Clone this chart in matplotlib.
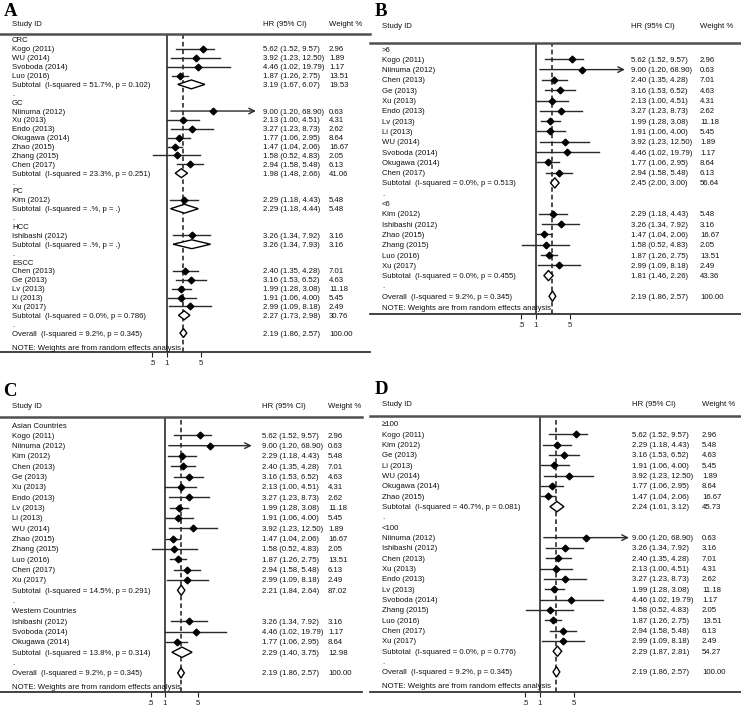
import numpy as np
import matplotlib
matplotlib.use('Agg')
import matplotlib.pyplot as plt
import matplotlib.transforms as mtransforms
from matplotlib.patches import Polygon

plt.rcParams['font.family'] = ['Liberation Sans', 'DejaVu Sans']

# ---- study level data (HR, 95% CI, weight %) ----
study = ['Kogo (2011)', 'WU (2014)', 'Svoboda (2014)', 'Luo (2016)', 'Niinuma (2012)', 'Xu (2013)',
         'Endo (2013)', 'Okugawa (2014)', 'Zhao (2015)', 'Zhang (2015)', 'Chen (2017)', 'Kim (2012)',
         'Ishibashi (2012)', 'Chen (2013)', 'Ge (2013)', 'Lv (2013)', 'Li (2013)', 'Xu (2017)']
hr = [5.62, 3.92, 4.46, 1.87, 9.00, 2.13, 3.27, 1.77, 1.47, 1.58, 2.94, 2.29, 3.26, 2.40, 3.16, 1.99, 1.91, 2.99]
lo = [1.52, 1.23, 1.02, 1.26, 1.20, 1.00, 1.23, 1.06, 1.04, 0.52, 1.58, 1.18, 1.34, 1.35, 1.53, 1.28, 1.06, 1.09]
hi = [9.57, 12.50, 19.79, 2.75, 68.90, 4.51, 8.73, 2.95, 2.06, 4.83, 5.48, 4.43, 7.92, 4.28, 6.52, 3.08, 4.00, 8.18]
wt = [2.96, 1.89, 1.17, 13.51, 0.63, 4.31, 2.62, 8.64, 16.67, 2.05, 6.13, 5.48, 3.16, 7.01, 4.63, 11.18, 5.45, 2.49]

# overall (same in all 4 panels)
ov_hr, ov_lo, ov_hi, ov_wt = 2.19, 1.86, 2.57, 100.00
ov_i2, ov_p = '9.2', '0.345'

# ---- A: tumor type ----
a_groups = ['CRC', 'GC', 'PC', 'HCC', 'ESCC']
a_members = [['Kogo (2011)', 'WU (2014)', 'Svoboda (2014)', 'Luo (2016)'],
             ['Niinuma (2012)', 'Xu (2013)', 'Endo (2013)', 'Okugawa (2014)', 'Zhao (2015)', 'Zhang (2015)', 'Chen (2017)'],
             ['Kim (2012)'],
             ['Ishibashi (2012)'],
             ['Chen (2013)', 'Ge (2013)', 'Lv (2013)', 'Li (2013)', 'Xu (2017)']]
a_i2 = ['51.7', '23.3', '.', '.', '0.0']
a_p = ['0.102', '0.251', '.', '.', '0.786']
a_hr = [3.19, 1.98, 2.29, 3.26, 2.27]
a_lo = [1.67, 1.48, 1.18, 1.34, 1.73]
a_hi = [6.07, 2.66, 4.44, 7.93, 2.98]
a_wt = [19.53, 41.06, 5.48, 3.16, 30.76]

# ---- B: follow-up ----
b_groups = ['>6', '<6']
b_members = [['Kogo (2011)', 'Niinuma (2012)', 'Chen (2013)', 'Ge (2013)', 'Xu (2013)', 'Endo (2013)', 'Lv (2013)',
              'Li (2013)', 'WU (2014)', 'Svoboda (2014)', 'Okugawa (2014)', 'Chen (2017)'],
             ['Kim (2012)', 'Ishibashi (2012)', 'Zhao (2015)', 'Zhang (2015)', 'Luo (2016)', 'Xu (2017)']]
b_i2 = ['0.0', '0.0']
b_p = ['0.513', '0.455']
b_hr = [2.45, 1.81]
b_lo = [2.00, 1.46]
b_hi = [3.00, 2.26]
b_wt = [56.64, 43.36]

# ---- C: region ----
c_groups = ['Asian Countries', 'Western Countries']
c_members = [['Kogo (2011)', 'Niinuma (2012)', 'Kim (2012)', 'Chen (2013)', 'Ge (2013)', 'Xu (2013)', 'Endo (2013)',
              'Lv (2013)', 'Li (2013)', 'WU (2014)', 'Zhao (2015)', 'Zhang (2015)', 'Luo (2016)', 'Chen (2017)', 'Xu (2017)'],
             ['Ishibashi (2012)', 'Svoboda (2014)', 'Okugawa (2014)']]
c_i2 = ['14.5', '13.8']
c_p = ['0.291', '0.314']
c_hr = [2.21, 2.29]
c_lo = [1.84, 1.40]
c_hi = [2.64, 3.75]
c_wt = [87.02, 12.98]

# ---- D: sample size ----
d_groups = ['\u2265100', '<100']
d_members = [['Kogo (2011)', 'Kim (2012)', 'Ge (2013)', 'Li (2013)', 'WU (2014)', 'Okugawa (2014)', 'Zhao (2015)'],
             ['Niinuma (2012)', 'Ishibashi (2012)', 'Chen (2013)', 'Xu (2013)', 'Endo (2013)', 'Lv (2013)',
              'Svoboda (2014)', 'Zhang (2015)', 'Luo (2016)', 'Chen (2017)', 'Xu (2017)']]
d_i2 = ['46.7', '0.0']
d_p = ['0.081', '0.776']
d_hr = [2.24, 2.29]
d_lo = [1.61, 1.87]
d_hi = [3.12, 2.81]
d_wt = [45.73, 54.27]

tick_vals = [0.5, 1, 5]
tick_labs = ['.5', '1', '5']

W, H = 741, 708
fig = plt.figure(figsize=(W / 100, H / 100), dpi=100)
fig.patch.set_facecolor('white')

FS = 5.6
TXT = '#111111'
LINE = '#2a2a2a'


def fmt_ci(h, l, u):
    return '%.2f (%.2f, %.2f)' % (h, l, u)


def diamond(ax, h, l, u, y, half=0.5):
    pts = [(l, y), (h, y - half), (u, y), (h, y + half)]
    ax.add_patch(Polygon(pts, closed=True, facecolor='white', edgecolor='black', lw=1.0, zorder=4))


def draw_panel(lay, groups, members, i2, p, shr, slo, shi, swt):
    ax = fig.add_axes([lay['x0'] / W, 1 - lay['bot'] / H,
                       (lay['x1'] - lay['x0']) / W, (lay['bot'] - lay['top']) / H])
    ax.set_xscale('log')
    s = lay['s']
    ax.set_xlim(np.exp((lay['x0'] - lay['null']) / s), np.exp((lay['x1'] - lay['null']) / s))
    ax.set_ylim((lay['bot'] - lay['first']) / lay['dy'], (lay['top'] - lay['first']) / lay['dy'])
    ax.patch.set_alpha(0)
    tr = mtransforms.blended_transform_factory(fig.transFigure, ax.transData)

    def txt(x, y, t):
        ax.text(x / W, y, t, transform=tr, fontsize=FS, color=TXT, ha='left', va='center_baseline')

    r = 0
    for g in range(len(groups)):
        txt(lay['xs'], r, groups[g])
        r += 1
        for name in members[g]:
            i = study.index(name)
            txt(lay['xs'], r, name)
            if hi[i] > 50:
                ax.annotate('', xy=(hi[i], r), xytext=(lo[i], r),
                            arrowprops=dict(arrowstyle='->,head_length=0.4,head_width=0.2',
                                            color=LINE, lw=1.0, shrinkA=0, shrinkB=0))
            else:
                ax.plot([lo[i], hi[i]], [r, r], color=LINE, lw=1.0, zorder=3)
            ax.plot(hr[i], r, marker='D', ms=3.4, color='black', zorder=5)
            txt(lay['xh'], r, fmt_ci(hr[i], lo[i], hi[i]))
            txt(lay['xw'], r, '%.2f' % wt[i])
            r += 1
        txt(lay['xs'], r, 'Subtotal  (I-squared = %s%%, p = %s)' % (i2[g], p[g]))
        diamond(ax, shr[g], slo[g], shi[g], r)
        txt(lay['xh'], r, fmt_ci(shr[g], slo[g], shi[g]))
        txt(lay['xw'], r, '%.2f' % swt[g])
        r += 1
        txt(lay['xs'], r, '.')
        r += 1
    txt(lay['xs'], r, 'Overall  (I-squared = %s%%, p = %s)' % (ov_i2, ov_p))
    diamond(ax, ov_hr, ov_lo, ov_hi, r)
    txt(lay['xh'], r, fmt_ci(ov_hr, ov_lo, ov_hi))
    txt(lay['xw'], r, '%.2f' % ov_wt)
    txt(lay['xs'], r + lay['note'], 'NOTE: Weights are from random effects analysis')

    # null line and overall effect line
    ax.axvline(1, color='#1a1a1a', lw=1.1, zorder=2)
    ax.axvline(ov_hr, color='#1a1a1a', lw=1.1, ls=(0, (3, 2)), zorder=2)

    for side in ['left', 'right']:
        ax.spines[side].set_visible(False)
    ax.spines['top'].set_color('#505050')
    ax.spines['top'].set_linewidth(1.8)
    ax.spines['bottom'].set_color('#333333')
    ax.spines['bottom'].set_linewidth(1.3)
    ax.set_yticks([])
    ax.set_xticks(tick_vals)
    ax.set_xticklabels(tick_labs)
    ax.minorticks_off()
    ax.tick_params(axis='x', length=3.5, width=0.8, pad=2.5, labelsize=FS, colors='#222222')

    # headers and panel letter
    hy = 1 - lay['yh'] / H
    fig.text(lay['xs'] / W, hy, 'Study ID', fontsize=FS, color=TXT, va='center_baseline')
    fig.text(lay['xh'] / W, hy, 'HR (95% CI)', fontsize=FS, color=TXT, va='center_baseline')
    fig.text(lay['xw'] / W, hy, 'Weight %', fontsize=FS, color=TXT, va='center_baseline')
    fig.text(lay['lab'][0] / W, 1 - lay['lab'][1] / H, lay['label'], family=['Liberation Serif', 'DejaVu Serif'],
             fontsize=13.5, fontweight='bold', color='black', ha='left', va='center')


lay_a = dict(label='A', x0=0, x1=370, top=34, bot=352, first=40, dy=8.88, null=167, s=21,
             xs=12, xh=263, xw=329, yh=23, note=1.58, lab=(4, 11))
lay_b = dict(label='B', x0=370, x1=741, top=43, bot=314, first=49, dy=10.3, null=536, s=21,
             xs=382, xh=631, xw=700, yh=25, note=1.1, lab=(375, 11))
lay_c = dict(label='C', x0=0, x1=362, top=417, bot=692, first=425, dy=10.33, null=165, s=20.5,
             xs=12, xh=262, xw=328, yh=405, note=1.36, lab=(3, 391))
lay_d = dict(label='D', x0=370, x1=741, top=416, bot=692, first=424, dy=10.33, null=540, s=21,
             xs=382, xh=632, xw=702, yh=403, note=1.3, lab=(375, 390))

draw_panel(lay_a, a_groups, a_members, a_i2, a_p, a_hr, a_lo, a_hi, a_wt)
draw_panel(lay_b, b_groups, b_members, b_i2, b_p, b_hr, b_lo, b_hi, b_wt)
draw_panel(lay_c, c_groups, c_members, c_i2, c_p, c_hr, c_lo, c_hi, c_wt)
draw_panel(lay_d, d_groups, d_members, d_i2, d_p, d_hr, d_lo, d_hi, d_wt)

fig.savefig('out.png', dpi=100, facecolor='white')
